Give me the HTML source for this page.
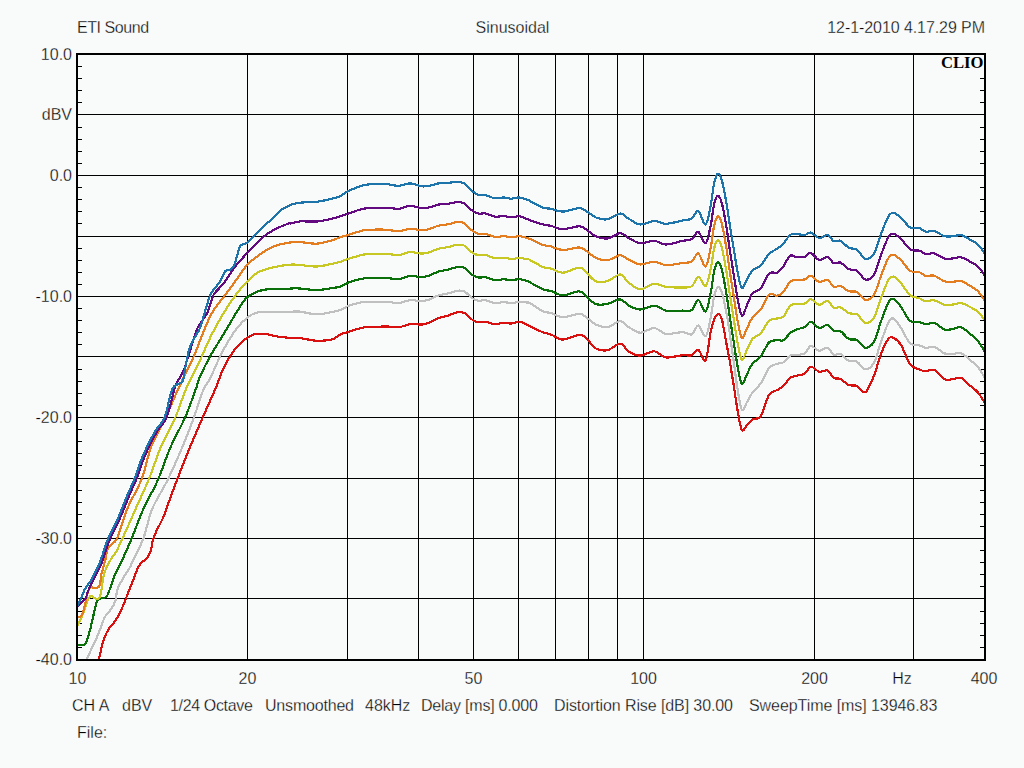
<!DOCTYPE html>
<html><head><meta charset="utf-8"><style>html,body{margin:0;padding:0;background:#f9fbfb;overflow:hidden}svg{display:block}</style></head>
<body><svg width="1024" height="768" viewBox="0 0 1024 768">
<rect x="0" y="0" width="1024" height="768" fill="#f9fbfb"/>
<path d="M247.5 54V659 M347.5 54V659 M418.5 54V659 M473.5 54V659 M518.5 54V659 M555.5 54V659 M588.5 54V659 M617.5 54V659 M643.5 54V659 M814.5 54V659 M913.5 54V659 M77 114.5H984 M77 175.5H984 M77 236.5H984 M77 296.5H984 M77 356.5H984 M77 417.5H984 M77 478.5H984 M77 538.5H984 M77 598.5H984 M78 66.5H82 M980 66.5H984 M78 78.5H82 M980 78.5H984 M78 90.5H82 M980 90.5H984 M78 102.5H82 M980 102.5H984 M78 127.5H82 M980 127.5H984 M78 139.5H82 M980 139.5H984 M78 151.5H82 M980 151.5H984 M78 163.5H82 M980 163.5H984 M78 187.5H82 M980 187.5H984 M78 199.5H82 M980 199.5H984 M78 211.5H82 M980 211.5H984 M78 223.5H82 M980 223.5H984 M78 248.5H82 M980 248.5H984 M78 260.5H82 M980 260.5H984 M78 272.5H82 M980 272.5H984 M78 284.5H82 M980 284.5H984 M78 308.5H82 M980 308.5H984 M78 320.5H82 M980 320.5H984 M78 332.5H82 M980 332.5H984 M78 344.5H82 M980 344.5H984 M78 369.5H82 M980 369.5H984 M78 381.5H82 M980 381.5H984 M78 393.5H82 M980 393.5H984 M78 405.5H82 M980 405.5H984 M78 429.5H82 M980 429.5H984 M78 441.5H82 M980 441.5H984 M78 453.5H82 M980 453.5H984 M78 465.5H82 M980 465.5H984 M78 490.5H82 M980 490.5H984 M78 502.5H82 M980 502.5H984 M78 514.5H82 M980 514.5H984 M78 526.5H82 M980 526.5H984 M78 550.5H82 M980 550.5H984 M78 562.5H82 M980 562.5H984 M78 574.5H82 M980 574.5H984 M78 586.5H82 M980 586.5H984 M78 611.5H82 M980 611.5H984 M78 623.5H82 M980 623.5H984 M78 635.5H82 M980 635.5H984 M78 647.5H82 M980 647.5H984" stroke="#000" stroke-width="1" fill="none" shape-rendering="crispEdges"/>
<g clip-path="url(#cp)"><clipPath id="cp"><rect x="78" y="55" width="906" height="604"/></clipPath><path d="M99.0 659.0 C99.7 656.0 101.8 645.8 103.4 640.8 C105.0 635.8 106.6 632.3 108.6 629.0 C110.5 625.7 113.1 624.0 115.1 621.2 C117.0 618.4 118.4 616.0 120.3 612.1 C122.2 608.2 124.3 602.5 126.2 597.8 C128.1 593.0 129.9 588.4 131.8 583.6 C133.7 578.8 135.9 572.5 137.5 568.9 C139.1 565.3 140.1 563.9 141.6 562.3 C143.1 560.6 145.0 560.9 146.5 559.0 C148.0 557.1 149.6 554.1 150.7 550.8 C151.8 547.5 152.1 542.6 153.1 539.3 C154.1 536.0 154.8 534.6 156.4 531.1 C158.1 527.6 161.3 521.7 163.0 518.0 C164.7 514.3 164.2 514.7 166.3 509.0 C168.4 503.3 171.7 494.0 175.6 483.7 C179.5 473.4 185.5 458.3 190.0 447.2 C194.5 436.1 198.6 427.1 202.8 417.3 C207.1 407.5 212.8 394.8 215.5 388.6 C218.2 382.4 217.4 383.4 218.8 380.0 C220.1 376.6 221.4 372.6 223.4 368.5 C225.4 364.4 227.9 359.5 230.5 355.6 C233.1 351.7 236.0 347.9 238.7 345.0 C241.4 342.1 244.2 339.8 246.9 338.0 C249.6 336.2 252.0 334.7 255.1 334.0 C258.2 333.3 262.1 333.6 265.6 334.0 C269.1 334.4 272.1 335.6 276.2 336.3 C280.3 337.0 287.6 337.7 290.0 338.0 C292.4 338.3 288.9 338.0 290.6 338.0 C292.3 338.0 295.6 337.6 300.0 338.1 C304.4 338.5 311.3 340.6 316.7 340.8 C322.1 341.0 328.4 340.3 332.3 339.3 C336.2 338.3 337.1 335.9 340.0 334.6 C342.9 333.3 345.5 332.7 349.4 331.5 C353.3 330.4 359.1 328.2 363.4 327.5 C367.7 326.7 371.3 327.1 375.2 326.9 C379.1 326.7 383.0 326.4 386.9 326.4 C390.8 326.5 394.7 327.7 398.6 327.3 C402.5 326.9 406.4 324.6 410.3 324.1 C414.2 323.6 418.9 324.8 422.0 324.5 C425.1 324.2 426.4 323.5 429.1 322.5 C431.9 321.4 435.4 319.2 438.5 318.0 C441.6 316.9 444.8 316.5 447.9 315.6 C451.0 314.7 454.5 312.8 457.2 312.4 C459.9 312.0 461.9 311.9 464.3 313.0 C466.7 314.1 469.0 317.5 471.3 319.1 C473.6 320.7 476.0 321.9 478.3 322.3 C480.6 322.8 482.7 321.5 485.4 321.8 C488.1 322.1 491.6 324.0 494.7 324.2 C497.8 324.3 501.4 322.9 504.1 322.8 C506.9 322.7 508.6 323.7 511.2 323.6 C513.8 323.4 516.7 321.6 519.4 321.8 C522.1 322.0 525.8 324.3 527.6 325.1 C529.4 325.8 527.5 325.2 530.0 326.4 C532.5 327.6 539.4 330.9 542.9 332.3 C546.4 333.6 547.8 333.4 551.1 334.6 C554.4 335.8 558.1 339.5 562.8 339.6 C567.5 339.6 575.3 335.1 579.2 334.9 C583.1 334.7 583.5 336.0 586.3 338.2 C589.0 340.5 592.2 346.4 595.7 348.4 C599.2 350.4 603.3 351.0 607.4 350.2 C611.5 349.4 616.8 343.4 620.3 343.6 C623.8 343.8 625.2 349.5 628.5 351.5 C631.8 353.6 635.9 355.7 640.2 355.6 C644.5 355.6 650.0 351.0 654.3 351.3 C658.6 351.6 661.3 356.8 666.0 357.4 C670.7 358.1 678.1 355.6 682.4 355.2 C686.7 354.9 689.1 356.2 691.8 355.3 C694.4 354.4 696.0 349.0 698.3 349.8 C700.6 350.6 703.5 363.2 705.6 360.2 C707.7 357.2 709.2 338.6 710.6 332.0 C712.0 325.4 712.8 323.3 713.8 320.5 C714.7 317.7 715.6 316.0 716.5 315.0 C717.4 314.0 718.1 313.6 719.0 314.4 C719.9 315.2 720.8 314.9 722.0 319.6 C723.2 324.3 725.0 335.9 726.2 342.5 C727.5 349.1 728.2 352.1 729.4 359.0 C730.6 365.9 732.1 375.3 733.5 384.0 C734.9 392.7 736.3 403.3 737.7 411.0 C739.1 418.7 740.3 427.7 741.9 430.0 C743.5 432.3 745.5 426.2 747.3 424.5 C749.1 422.8 750.2 421.1 752.5 419.6 C754.8 418.2 758.0 420.1 760.8 415.9 C763.6 411.7 766.4 398.9 769.2 394.6 C772.0 390.3 775.1 391.4 777.5 389.9 C779.9 388.4 781.7 387.4 783.8 385.4 C785.8 383.4 787.9 379.6 790.0 378.0 C792.1 376.3 793.8 376.4 796.2 375.7 C798.7 375.0 802.2 375.3 804.6 373.8 C807.0 372.2 808.4 367.0 810.8 366.7 C813.2 366.3 816.4 371.1 819.2 371.7 C822.0 372.3 825.1 369.5 827.5 370.5 C829.9 371.6 831.6 376.5 833.8 377.9 C835.9 379.3 837.9 377.8 840.4 379.0 C842.9 380.2 846.0 383.9 848.8 385.0 C851.5 386.2 854.3 384.8 857.1 386.0 C859.9 387.2 862.6 393.9 865.4 392.2 C868.2 390.5 871.1 382.4 873.8 376.1 C876.4 369.7 878.6 360.0 881.0 353.8 C883.4 347.7 886.2 341.7 888.3 339.0 C890.4 336.4 891.4 337.0 893.5 337.9 C895.6 338.8 898.0 340.2 900.8 344.6 C903.6 349.0 907.1 360.1 910.2 364.2 C913.3 368.4 917.0 368.4 919.6 369.6 C922.2 370.8 923.4 371.3 925.8 371.4 C928.2 371.4 931.1 368.6 934.2 369.9 C937.3 371.2 941.5 377.6 944.6 379.2 C947.7 380.7 950.1 379.4 952.9 379.2 C955.7 379.0 958.5 377.0 961.2 378.0 C964.0 379.0 966.8 382.8 969.6 385.2 C972.4 387.6 975.5 389.6 977.9 392.4 C980.3 395.2 983.2 400.3 984.2 401.9" stroke="#d81010" stroke-width="2.2" fill="none" stroke-linejoin="round" stroke-linecap="round" shape-rendering="crispEdges"/><path d="M87.0 659.0 C87.8 657.3 89.7 652.7 91.6 648.6 C93.5 644.5 96.0 639.5 98.2 634.3 C100.3 629.1 102.7 621.2 104.7 617.3 C106.7 613.4 108.2 613.4 109.9 610.8 C111.6 608.2 113.8 605.4 115.1 601.7 C116.4 598.0 116.0 593.3 117.7 588.7 C119.4 584.1 123.5 577.8 125.5 574.3 C127.5 570.8 128.4 570.1 129.7 567.7 C131.0 565.3 131.0 564.9 133.3 560.0 C135.6 555.1 140.2 546.9 143.4 538.4 C146.6 529.9 148.2 518.7 152.2 509.0 C156.2 499.3 162.6 490.3 167.6 480.0 C172.6 469.7 177.9 457.6 182.3 447.2 C186.7 436.8 190.4 427.1 194.0 417.3 C197.6 407.5 201.2 394.8 203.8 388.6 C206.3 382.4 206.7 385.3 209.4 380.0 C212.1 374.7 216.8 363.2 219.9 356.8 C223.0 350.4 225.2 346.5 228.1 341.6 C231.0 336.7 234.4 331.4 237.5 327.5 C240.6 323.6 243.4 320.6 246.9 318.1 C250.4 315.6 251.4 313.4 258.6 312.3 C265.8 311.2 283.1 311.8 290.0 311.7 C296.9 311.6 295.6 311.1 300.0 311.6 C304.4 312.0 311.3 314.3 316.7 314.4 C322.1 314.5 328.4 312.7 332.3 312.0 C336.2 311.3 337.1 311.1 340.0 310.0 C342.9 308.9 345.5 306.9 349.4 305.5 C353.3 304.2 359.1 302.6 363.4 302.0 C367.7 301.3 371.3 301.9 375.2 301.9 C379.1 301.9 383.0 301.6 386.9 301.8 C390.8 302.0 394.7 303.3 398.6 303.0 C402.5 302.7 406.4 300.5 410.3 300.2 C414.2 299.9 418.9 301.3 422.0 301.2 C425.1 301.0 426.4 300.4 429.1 299.5 C431.9 298.5 435.4 296.5 438.5 295.5 C441.6 294.5 444.8 294.3 447.9 293.5 C451.0 292.8 454.5 291.2 457.2 290.8 C459.9 290.4 461.9 290.3 464.3 291.4 C466.7 292.5 469.0 295.9 471.3 297.5 C473.6 299.1 476.0 300.3 478.3 300.7 C480.6 301.2 482.7 299.8 485.4 300.2 C488.1 300.6 491.6 302.7 494.7 303.0 C497.8 303.3 501.4 302.1 504.1 302.1 C506.9 302.1 508.6 303.2 511.2 303.2 C513.8 303.1 516.7 301.9 519.4 301.8 C522.1 301.7 525.8 302.3 527.6 302.6 C529.4 302.8 527.5 301.8 530.0 303.2 C532.5 304.6 539.4 309.6 542.9 311.3 C546.4 312.9 547.8 312.1 551.1 313.1 C554.4 314.1 558.1 317.1 562.8 317.3 C567.5 317.4 575.3 313.9 579.2 313.9 C583.1 313.8 583.5 315.5 586.3 317.2 C589.0 319.0 592.2 322.7 595.7 324.4 C599.2 326.0 603.3 327.8 607.4 327.3 C611.5 326.8 616.8 321.2 620.3 321.1 C623.8 321.0 625.2 325.0 628.5 326.9 C631.8 328.8 635.9 332.5 640.2 332.7 C644.5 332.9 650.0 327.8 654.3 328.0 C658.6 328.2 661.3 333.2 666.0 333.9 C670.7 334.6 678.1 332.1 682.4 332.2 C686.7 332.3 689.1 335.5 691.8 334.4 C694.4 333.3 696.0 325.2 698.3 325.5 C700.6 325.8 703.5 337.5 705.6 336.2 C707.7 335.0 709.2 324.7 710.6 318.3 C712.0 311.9 712.8 302.9 713.8 298.0 C714.7 293.1 715.6 290.8 716.5 289.0 C717.4 287.2 718.1 286.7 719.0 287.3 C719.9 287.9 720.8 288.7 722.0 292.7 C723.2 296.7 725.0 305.2 726.2 311.6 C727.5 317.9 728.2 322.8 729.4 330.9 C730.6 339.0 732.1 350.3 733.5 360.1 C734.9 369.9 736.3 381.5 737.7 389.8 C739.1 398.1 740.3 408.0 741.9 409.9 C743.5 411.9 745.5 404.4 747.3 401.5 C749.1 398.6 750.2 395.5 752.5 392.5 C754.8 389.5 758.0 387.4 760.8 383.3 C763.6 379.2 766.4 371.1 769.2 367.8 C772.0 364.6 775.1 364.7 777.5 363.7 C779.9 362.8 781.7 363.5 783.8 362.2 C785.8 360.9 787.9 356.9 790.0 355.7 C792.1 354.5 793.8 355.3 796.2 354.9 C798.7 354.5 802.2 355.0 804.6 353.5 C807.0 352.0 808.4 346.4 810.8 345.9 C813.2 345.5 816.4 350.5 819.2 350.8 C822.0 351.1 825.1 347.1 827.5 347.7 C829.9 348.3 831.6 353.7 833.8 354.7 C835.9 355.7 837.9 352.8 840.4 353.8 C842.9 354.8 846.0 359.6 848.8 360.9 C851.5 362.2 854.3 360.4 857.1 361.8 C859.9 363.3 862.6 369.2 865.4 369.4 C868.2 369.6 871.1 367.7 873.8 363.1 C876.4 358.6 878.6 348.7 881.0 342.0 C883.4 335.4 886.2 327.0 888.3 323.0 C890.4 319.1 891.4 317.7 893.5 318.5 C895.6 319.3 898.0 323.5 900.8 327.6 C903.6 331.8 907.1 340.5 910.2 343.4 C913.3 346.4 917.0 344.6 919.6 345.4 C922.2 346.1 923.4 347.7 925.8 348.0 C928.2 348.2 931.1 345.9 934.2 346.8 C937.3 347.7 941.5 352.3 944.6 353.4 C947.7 354.6 950.1 353.9 952.9 353.9 C955.7 353.9 958.5 352.3 961.2 353.3 C964.0 354.2 966.8 357.3 969.6 359.6 C972.4 361.9 975.5 364.1 977.9 367.0 C980.3 369.9 983.2 375.2 984.2 376.9" stroke="#c0c0c0" stroke-width="2.2" fill="none" stroke-linejoin="round" stroke-linecap="round" shape-rendering="crispEdges"/><path d="M77.0 645.0 C77.3 645.0 77.6 644.7 78.6 644.7 C79.6 644.8 81.9 645.8 83.2 645.3 C84.5 644.8 85.2 644.7 86.4 642.0 C87.6 639.3 89.0 634.0 90.3 629.0 C91.6 624.0 93.1 616.6 94.2 612.1 C95.3 607.6 95.7 604.0 96.8 601.7 C97.9 599.4 99.2 599.2 100.8 598.4 C102.3 597.6 104.7 598.1 106.0 597.1 C107.3 596.1 107.1 596.4 108.6 592.6 C110.1 588.8 112.8 579.7 115.1 574.3 C117.4 568.9 119.5 566.0 122.2 560.0 C125.0 554.0 128.2 546.9 131.7 538.4 C135.2 529.9 139.0 518.7 143.4 509.0 C147.8 499.3 153.4 490.3 157.9 480.0 C162.4 469.7 165.9 457.6 170.5 447.2 C175.1 436.8 180.9 427.1 185.2 417.3 C189.4 407.5 193.5 395.4 196.0 388.6 C198.5 381.8 197.6 382.2 200.0 376.7 C202.4 371.2 206.6 362.6 210.5 355.6 C214.4 348.6 218.7 342.3 223.4 334.5 C228.1 326.7 234.7 315.0 238.7 308.8 C242.7 302.5 243.7 300.2 247.3 297.2 C250.9 294.2 256.0 292.1 260.3 290.7 C264.6 289.3 268.4 289.1 273.3 288.8 C278.2 288.5 287.1 288.9 290.0 288.8 C292.9 288.8 288.9 288.6 290.6 288.5 C292.3 288.4 295.6 288.2 300.0 288.5 C304.4 288.7 311.3 290.2 316.7 290.1 C322.1 290.0 328.4 288.6 332.3 288.0 C336.2 287.4 337.1 287.6 340.0 286.6 C342.9 285.6 345.5 283.5 349.4 282.1 C353.3 280.8 359.1 279.1 363.4 278.5 C367.7 277.9 371.3 278.5 375.2 278.4 C379.1 278.3 383.0 278.0 386.9 278.1 C390.8 278.2 394.7 279.4 398.6 279.0 C402.5 278.7 406.4 276.3 410.3 276.0 C414.2 275.7 418.9 277.2 422.0 277.1 C425.1 277.0 426.4 276.4 429.1 275.5 C431.9 274.6 435.4 272.6 438.5 271.6 C441.6 270.7 444.8 270.5 447.9 269.7 C451.0 269.0 454.5 267.4 457.2 267.1 C459.9 266.8 461.9 266.7 464.3 267.9 C466.7 269.0 469.0 272.5 471.3 274.1 C473.6 275.8 476.0 277.0 478.3 277.5 C480.6 278.0 482.7 276.8 485.4 277.2 C488.1 277.6 491.6 279.7 494.7 280.1 C497.8 280.4 501.4 279.2 504.1 279.3 C506.9 279.3 508.6 280.4 511.2 280.4 C513.8 280.4 516.7 278.9 519.4 279.1 C522.1 279.3 525.8 280.8 527.6 281.3 C529.4 281.9 527.5 281.1 530.0 282.4 C532.5 283.7 539.4 287.8 542.9 289.3 C546.4 290.7 547.8 290.1 551.1 291.1 C554.4 292.1 558.1 295.2 562.8 295.3 C567.5 295.3 575.3 291.1 579.2 291.3 C583.1 291.5 583.5 294.3 586.3 296.4 C589.0 298.5 592.2 302.8 595.7 304.0 C599.2 305.3 603.3 304.7 607.4 304.0 C611.5 303.2 616.8 299.1 620.3 299.4 C623.8 299.6 625.2 303.8 628.5 305.4 C631.8 307.1 635.9 309.4 640.2 309.5 C644.5 309.5 650.0 305.5 654.3 305.6 C658.6 305.8 661.3 309.8 666.0 310.6 C670.7 311.4 678.1 310.7 682.4 310.6 C686.7 310.5 689.1 311.9 691.8 310.1 C694.4 308.4 696.0 299.8 698.3 300.0 C700.6 300.3 703.5 312.7 705.6 311.6 C707.7 310.5 709.2 299.9 710.6 293.4 C712.0 287.0 712.8 277.9 713.8 273.0 C714.7 268.1 715.6 265.6 716.5 263.9 C717.4 262.2 718.1 261.7 719.0 262.8 C719.9 263.9 720.8 265.6 722.0 270.5 C723.2 275.5 725.0 285.4 726.2 292.7 C727.5 300.0 728.2 306.5 729.4 314.4 C730.6 322.4 732.1 331.9 733.5 340.7 C734.9 349.4 736.3 359.8 737.7 366.9 C739.1 374.1 740.3 382.6 741.9 383.7 C743.5 384.8 745.5 376.8 747.3 373.5 C749.1 370.1 750.2 366.5 752.5 363.6 C754.8 360.7 758.0 359.9 760.8 356.3 C763.6 352.7 766.4 344.9 769.2 342.2 C772.0 339.6 775.1 340.7 777.5 340.3 C779.9 340.0 781.7 341.4 783.8 340.2 C785.8 339.0 787.9 334.9 790.0 333.1 C792.1 331.3 793.8 330.6 796.2 329.6 C798.7 328.6 802.2 328.3 804.6 327.0 C807.0 325.6 808.4 321.5 810.8 321.7 C813.2 321.9 816.4 327.4 819.2 327.9 C822.0 328.4 825.1 324.3 827.5 324.8 C829.9 325.3 831.6 329.9 833.8 331.0 C835.9 332.0 837.9 329.8 840.4 331.2 C842.9 332.5 846.0 337.5 848.8 339.0 C851.5 340.4 854.3 338.6 857.1 340.0 C859.9 341.5 862.6 347.3 865.4 347.7 C868.2 348.0 871.1 346.4 873.8 342.0 C876.4 337.6 878.6 327.9 881.0 321.4 C883.4 314.9 886.2 306.7 888.3 302.9 C890.4 299.1 891.4 298.1 893.5 298.8 C895.6 299.4 898.0 303.0 900.8 306.7 C903.6 310.4 907.1 318.4 910.2 321.0 C913.3 323.6 917.0 321.5 919.6 322.1 C922.2 322.6 923.4 324.2 925.8 324.4 C928.2 324.5 931.1 322.0 934.2 322.9 C937.3 323.7 941.5 328.7 944.6 329.7 C947.7 330.7 950.1 329.3 952.9 328.9 C955.7 328.4 958.5 326.4 961.2 327.2 C964.0 328.0 966.8 331.2 969.6 333.5 C972.4 335.8 975.5 338.0 977.9 340.9 C980.3 343.8 983.2 349.1 984.2 350.8" stroke="#0a700a" stroke-width="2.2" fill="none" stroke-linejoin="round" stroke-linecap="round" shape-rendering="crispEdges"/><path d="M77.0 626.0 C77.3 625.6 77.6 625.9 78.6 623.8 C79.6 621.7 81.7 617.3 83.2 613.4 C84.7 609.5 86.4 603.3 87.7 600.4 C89.0 597.5 89.9 596.2 91.0 595.8 C92.1 595.4 93.0 597.3 94.2 597.8 C95.4 598.3 97.1 599.6 98.2 599.0 C99.2 598.4 99.8 598.0 100.8 593.9 C101.7 589.8 102.4 579.9 104.0 574.3 C105.6 568.6 108.5 563.7 110.5 560.0 C112.5 556.3 114.0 555.6 116.0 552.0 C118.0 548.4 119.2 545.6 122.5 538.4 C125.8 531.2 131.2 519.0 135.6 509.0 C140.0 499.0 145.0 488.7 149.2 478.4 C153.4 468.1 156.4 457.4 160.8 447.2 C165.2 437.0 171.2 427.1 175.4 417.3 C179.6 407.5 182.1 398.1 186.2 388.6 C190.3 379.1 195.8 369.3 200.0 360.3 C204.2 351.3 207.8 342.3 211.7 334.5 C215.6 326.7 219.2 320.3 223.4 313.4 C227.6 306.5 232.9 298.6 236.9 293.3 C240.9 288.0 243.8 285.1 247.3 281.6 C250.8 278.1 253.4 274.9 257.7 272.5 C262.0 270.1 267.9 268.6 273.3 267.3 C278.7 266.0 285.6 265.1 290.0 264.7 C294.4 264.3 295.6 264.7 300.0 265.0 C304.4 265.3 311.3 266.7 316.7 266.5 C322.1 266.3 328.4 264.5 332.3 263.8 C336.2 263.0 337.1 262.8 340.0 261.9 C342.9 261.0 345.5 259.8 349.4 258.6 C353.3 257.4 359.1 255.4 363.4 254.6 C367.7 253.9 371.3 254.3 375.2 254.2 C379.1 254.1 383.0 253.8 386.9 254.0 C390.8 254.1 394.7 255.3 398.6 255.0 C402.5 254.7 406.4 252.3 410.3 252.1 C414.2 251.9 418.9 253.6 422.0 253.6 C425.1 253.6 426.4 253.0 429.1 252.2 C431.9 251.4 435.4 249.5 438.5 248.7 C441.6 247.8 444.8 247.8 447.9 247.1 C451.0 246.5 454.5 245.1 457.2 244.8 C459.9 244.5 461.9 244.4 464.3 245.6 C466.7 246.8 469.0 250.3 471.3 251.9 C473.6 253.5 476.0 254.8 478.3 255.3 C480.6 255.8 482.7 254.5 485.4 255.0 C488.1 255.5 491.6 257.7 494.7 258.2 C497.8 258.6 501.4 257.5 504.1 257.7 C506.9 257.8 508.6 259.0 511.2 259.0 C513.8 259.1 516.7 258.0 519.4 258.0 C522.1 258.0 525.8 258.9 527.6 259.2 C529.4 259.6 527.5 258.7 530.0 260.0 C532.5 261.3 539.4 265.5 542.9 267.0 C546.4 268.4 547.8 267.7 551.1 268.6 C554.4 269.6 558.1 272.9 562.8 272.7 C567.5 272.5 575.3 267.6 579.2 267.6 C583.1 267.5 583.5 270.2 586.3 272.5 C589.0 274.8 592.2 279.9 595.7 281.3 C599.2 282.7 603.3 282.3 607.4 281.1 C611.5 280.0 616.8 274.2 620.3 274.4 C623.8 274.7 625.2 280.1 628.5 282.5 C631.8 285.0 635.9 288.9 640.2 289.1 C644.5 289.3 650.0 284.1 654.3 283.7 C658.6 283.3 661.3 286.1 666.0 286.8 C670.7 287.4 678.1 287.6 682.4 287.5 C686.7 287.4 689.1 288.0 691.8 286.2 C694.4 284.4 696.0 276.8 698.3 276.7 C700.6 276.7 703.5 287.2 705.6 286.0 C707.7 284.8 709.2 275.3 710.6 269.3 C712.0 263.3 712.8 254.5 713.8 249.9 C714.7 245.2 715.6 243.0 716.5 241.5 C717.4 240.0 718.1 239.8 719.0 240.9 C719.9 242.0 720.8 243.5 722.0 248.3 C723.2 253.2 725.0 262.9 726.2 270.2 C727.5 277.4 728.2 283.7 729.4 291.6 C730.6 299.5 732.1 308.9 733.5 317.5 C734.9 326.1 736.3 336.4 737.7 343.4 C739.1 350.5 740.3 358.9 741.9 359.8 C743.5 360.7 745.5 352.4 747.3 348.9 C749.1 345.4 750.2 341.6 752.5 338.9 C754.8 336.3 758.0 336.1 760.8 333.0 C763.6 330.0 766.4 323.1 769.2 320.6 C772.0 318.2 775.1 319.2 777.5 318.4 C779.9 317.7 781.7 318.2 783.8 316.2 C785.8 314.1 787.9 308.0 790.0 306.0 C792.1 303.9 793.8 304.3 796.2 303.9 C798.7 303.5 802.2 304.4 804.6 303.6 C807.0 302.8 808.4 298.9 810.8 299.1 C813.2 299.3 816.4 304.7 819.2 305.0 C822.0 305.3 825.1 300.3 827.5 300.8 C829.9 301.3 831.6 306.9 833.8 307.9 C835.9 309.0 837.9 306.4 840.4 307.2 C842.9 308.1 846.0 311.9 848.8 313.1 C851.5 314.3 854.3 312.9 857.1 314.5 C859.9 316.1 862.6 322.2 865.4 322.8 C868.2 323.3 871.1 322.0 873.8 317.9 C876.4 313.8 878.6 304.3 881.0 298.1 C883.4 291.8 886.2 283.9 888.3 280.3 C890.4 276.7 891.4 276.2 893.5 276.6 C895.6 277.1 898.0 279.9 900.8 283.0 C903.6 286.1 907.1 292.7 910.2 295.2 C913.3 297.8 917.0 297.3 919.6 298.3 C922.2 299.3 923.4 301.1 925.8 301.4 C928.2 301.7 931.1 299.7 934.2 300.3 C937.3 300.9 941.5 304.3 944.6 305.0 C947.7 305.7 950.1 304.9 952.9 304.5 C955.7 304.2 958.5 302.7 961.2 303.1 C964.0 303.5 966.8 305.4 969.6 306.8 C972.4 308.3 975.5 309.5 977.9 311.6 C980.3 313.7 983.2 318.3 984.2 319.6" stroke="#c8c824" stroke-width="2.2" fill="none" stroke-linejoin="round" stroke-linecap="round" shape-rendering="crispEdges"/><path d="M77.0 617.5 C77.3 617.4 77.9 617.0 78.6 616.7 C79.3 616.5 80.2 617.6 81.2 616.0 C82.2 614.4 83.4 610.9 84.5 607.0 C85.6 603.1 86.7 595.9 87.7 592.6 C88.7 589.3 89.2 588.2 90.3 587.4 C91.4 586.6 92.7 588.2 94.2 588.0 C95.7 587.8 98.3 588.3 99.5 586.0 C100.7 583.7 100.4 578.6 101.4 574.3 C102.4 570.0 104.2 564.4 105.3 560.0 C106.4 555.6 106.2 551.6 108.2 548.0 C110.2 544.4 113.8 544.9 117.0 538.4 C120.2 531.9 123.0 519.0 127.2 509.0 C131.4 499.0 138.0 488.7 142.0 478.4 C146.0 468.1 147.1 457.4 151.0 447.2 C154.9 437.0 161.1 427.1 165.7 417.3 C170.3 407.5 173.7 398.8 178.4 388.6 C183.1 378.4 190.4 364.0 194.0 356.0 C197.6 348.0 197.1 347.5 200.0 340.4 C202.9 333.3 207.3 321.2 211.7 313.4 C216.1 305.5 222.3 299.0 226.5 293.3 C230.7 287.6 233.4 283.8 236.9 279.0 C240.4 274.2 243.4 268.8 247.3 264.7 C251.2 260.6 256.0 257.3 260.3 254.3 C264.6 251.3 268.4 248.5 273.3 246.5 C278.2 244.5 285.6 243.2 290.0 242.5 C294.4 241.8 295.6 241.9 300.0 242.1 C304.4 242.3 311.3 244.0 316.7 243.7 C322.1 243.4 328.4 241.4 332.3 240.3 C336.2 239.2 337.1 238.2 340.0 237.3 C342.9 236.4 345.5 235.8 349.4 234.6 C353.3 233.5 359.1 231.2 363.4 230.4 C367.7 229.5 371.3 229.7 375.2 229.6 C379.1 229.5 383.0 229.5 386.9 229.8 C390.8 230.0 394.7 231.4 398.6 231.2 C402.5 231.1 406.4 228.8 410.3 228.7 C414.2 228.6 418.9 230.3 422.0 230.4 C425.1 230.4 426.4 229.9 429.1 229.1 C431.9 228.3 435.4 226.5 438.5 225.7 C441.6 224.9 444.8 224.9 447.9 224.3 C451.0 223.7 454.5 222.3 457.2 222.1 C459.9 221.9 461.9 222.0 464.3 223.3 C466.7 224.6 469.0 228.2 471.3 230.0 C473.6 231.8 476.0 233.2 478.3 233.8 C480.6 234.5 482.7 233.4 485.4 233.9 C488.1 234.4 491.6 236.5 494.7 236.9 C497.8 237.3 501.4 236.1 504.1 236.2 C506.9 236.3 508.6 237.4 511.2 237.4 C513.8 237.4 516.7 236.1 519.4 236.2 C522.1 236.3 525.8 237.6 527.6 238.1 C529.4 238.5 527.5 237.9 530.0 239.0 C532.5 240.1 539.4 243.6 542.9 244.9 C546.4 246.1 547.8 245.7 551.1 246.5 C554.4 247.4 558.1 249.8 562.8 250.0 C567.5 250.1 575.3 247.3 579.2 247.4 C583.1 247.6 583.5 249.1 586.3 250.8 C589.0 252.6 592.2 256.1 595.7 257.7 C599.2 259.3 603.3 260.7 607.4 260.3 C611.5 259.8 616.8 255.3 620.3 255.2 C623.8 255.1 625.2 258.0 628.5 259.6 C631.8 261.1 635.9 264.0 640.2 264.4 C644.5 264.8 650.0 261.6 654.3 261.7 C658.6 261.8 661.3 264.9 666.0 265.1 C670.7 265.4 678.1 263.6 682.4 263.0 C686.7 262.4 689.1 263.1 691.8 261.5 C694.4 259.9 696.0 252.6 698.3 253.4 C700.6 254.3 703.5 267.4 705.6 266.5 C707.7 265.6 709.2 254.6 710.6 248.1 C712.0 241.6 712.8 232.5 713.8 227.5 C714.7 222.5 715.6 219.9 716.5 218.2 C717.4 216.4 718.1 215.9 719.0 217.0 C719.9 218.1 720.8 219.8 722.0 224.7 C723.2 229.7 725.0 239.6 726.2 246.9 C727.5 254.2 728.2 260.7 729.4 268.7 C730.6 276.7 732.1 286.2 733.5 294.9 C734.9 303.7 736.3 314.0 737.7 321.2 C739.1 328.3 740.3 336.9 741.9 337.9 C743.5 339.0 745.5 331.0 747.3 327.6 C749.1 324.2 750.2 320.6 752.5 317.5 C754.8 314.4 758.0 313.0 760.8 309.2 C763.6 305.4 766.4 296.8 769.2 294.6 C772.0 292.4 775.1 296.3 777.5 295.7 C779.9 295.2 781.7 293.7 783.8 291.4 C785.8 289.1 787.9 283.8 790.0 281.9 C792.1 280.0 793.8 280.3 796.2 279.9 C798.7 279.5 802.2 280.1 804.6 279.4 C807.0 278.7 808.4 275.3 810.8 275.7 C813.2 276.1 816.4 281.2 819.2 281.9 C822.0 282.6 825.1 279.0 827.5 279.8 C829.9 280.6 831.6 285.9 833.8 286.9 C835.9 288.0 837.9 285.2 840.4 285.9 C842.9 286.6 846.0 290.2 848.8 291.2 C851.5 292.2 854.3 290.6 857.1 292.0 C859.9 293.4 862.6 299.2 865.4 299.8 C868.2 300.3 871.1 299.3 873.8 295.3 C876.4 291.3 878.6 281.9 881.0 275.8 C883.4 269.6 886.2 261.8 888.3 258.3 C890.4 254.8 891.4 254.6 893.5 254.9 C895.6 255.2 898.0 257.4 900.8 260.1 C903.6 262.7 907.1 268.7 910.2 270.8 C913.3 272.8 917.0 271.4 919.6 272.3 C922.2 273.2 923.4 275.4 925.8 276.0 C928.2 276.5 931.1 274.8 934.2 275.7 C937.3 276.6 941.5 280.4 944.6 281.4 C947.7 282.4 950.1 281.8 952.9 281.7 C955.7 281.7 958.5 280.4 961.2 281.1 C964.0 281.7 966.8 284.0 969.6 285.6 C972.4 287.3 975.5 288.9 977.9 291.2 C980.3 293.6 983.2 298.4 984.2 299.8" stroke="#e47c20" stroke-width="2.2" fill="none" stroke-linejoin="round" stroke-linecap="round" shape-rendering="crispEdges"/><path d="M77.0 607.0 C77.3 606.7 77.7 605.9 78.6 605.0 C79.5 604.1 81.3 602.9 82.5 601.7 C83.7 600.5 84.7 600.0 85.8 597.8 C86.9 595.6 87.7 591.8 89.0 588.7 C90.3 585.7 92.0 582.8 93.6 579.5 C95.2 576.2 97.3 572.4 98.8 569.1 C100.3 565.9 100.8 565.1 102.8 560.0 C104.7 554.9 107.7 544.6 110.2 538.4 C112.7 532.2 115.7 527.6 118.0 522.7 C120.3 517.8 122.0 513.5 123.9 509.0 C125.8 504.4 127.1 500.4 129.2 495.4 C131.3 490.4 133.8 485.7 136.5 479.0 C139.2 472.3 141.8 462.9 145.2 455.0 C148.6 447.1 153.3 437.9 156.9 431.6 C160.5 425.3 163.8 424.5 166.7 417.3 C169.6 410.1 172.7 394.5 174.5 388.6 C176.3 382.7 175.8 385.1 177.4 381.8 C179.0 378.5 181.2 377.2 184.2 369.0 C187.2 360.8 193.0 340.3 195.6 332.8 C198.2 325.3 198.1 327.2 200.0 324.0 C201.9 320.8 205.1 317.1 207.0 313.4 C208.9 309.7 210.0 304.9 211.2 301.7 C212.4 298.5 212.7 296.2 214.0 294.0 C215.3 291.8 217.3 290.4 219.0 288.5 C220.7 286.6 221.1 286.6 223.9 282.9 C226.7 279.1 231.7 271.0 235.6 266.0 C239.5 261.0 242.8 257.8 247.3 253.0 C251.9 248.2 258.3 241.2 262.9 237.3 C267.4 233.4 270.1 231.9 274.6 229.5 C279.1 227.1 287.3 224.0 290.0 223.0 C292.7 222.0 288.9 223.7 290.6 223.4 C292.3 223.1 295.6 221.8 300.0 221.4 C304.4 221.1 311.3 221.9 316.7 221.5 C322.1 221.0 328.4 219.5 332.3 218.6 C336.2 217.8 337.1 217.2 340.0 216.3 C342.9 215.4 345.5 214.3 349.4 213.1 C353.3 211.8 359.1 209.6 363.4 208.7 C367.7 207.8 371.3 208.1 375.2 207.9 C379.1 207.7 383.0 207.5 386.9 207.7 C390.8 207.8 394.7 209.1 398.6 208.8 C402.5 208.5 406.4 205.9 410.3 205.9 C414.2 205.8 418.9 208.0 422.0 208.2 C425.1 208.5 426.4 208.0 429.1 207.4 C431.9 206.8 435.4 205.2 438.5 204.6 C441.6 204.0 444.8 204.2 447.9 203.8 C451.0 203.4 454.5 202.3 457.2 202.2 C459.9 202.1 461.9 202.0 464.3 203.3 C466.7 204.5 469.0 208.1 471.3 209.8 C473.6 211.6 476.0 212.9 478.3 213.5 C480.6 214.1 482.7 213.0 485.4 213.5 C488.1 214.0 491.6 216.2 494.7 216.6 C497.8 217.1 501.4 216.0 504.1 216.1 C506.9 216.2 508.6 217.3 511.2 217.4 C513.8 217.4 516.7 216.0 519.4 216.3 C522.1 216.6 525.8 218.5 527.6 219.2 C529.4 219.9 527.5 219.6 530.0 220.5 C532.5 221.4 539.4 223.5 542.9 224.4 C546.4 225.3 547.8 225.1 551.1 225.9 C554.4 226.7 558.1 229.1 562.8 229.1 C567.5 229.2 575.3 226.2 579.2 226.3 C583.1 226.3 583.5 227.9 586.3 229.5 C589.0 231.2 592.2 234.7 595.7 236.2 C599.2 237.7 603.3 239.0 607.4 238.5 C611.5 238.0 616.8 233.3 620.3 233.2 C623.8 233.1 625.2 236.2 628.5 237.9 C631.8 239.6 635.9 242.8 640.2 243.3 C644.5 243.8 650.0 240.6 654.3 240.9 C658.6 241.1 661.3 244.5 666.0 244.5 C670.7 244.5 678.1 241.8 682.4 240.9 C686.7 240.0 689.1 240.5 691.8 239.0 C694.4 237.5 696.0 231.2 698.3 231.9 C700.6 232.6 703.5 244.3 705.6 243.3 C707.7 242.3 709.2 232.0 710.6 225.8 C712.0 219.6 712.8 210.6 713.8 205.8 C714.7 201.0 715.6 198.7 716.5 197.0 C717.4 195.4 718.1 195.1 719.0 196.2 C719.9 197.3 720.8 198.8 722.0 203.7 C723.2 208.6 725.0 218.3 726.2 225.6 C727.5 232.8 728.2 239.2 729.4 247.1 C730.6 255.0 732.1 264.4 733.5 273.1 C734.9 281.8 736.3 292.0 737.7 299.1 C739.1 306.2 740.3 314.7 741.9 315.6 C743.5 316.5 745.5 308.1 747.3 304.4 C749.1 300.7 750.2 296.0 752.5 293.3 C754.8 290.6 758.0 291.4 760.8 288.1 C763.6 284.8 766.4 276.1 769.2 273.5 C772.0 270.9 775.1 273.8 777.5 272.5 C779.9 271.2 781.7 268.5 783.8 265.7 C785.8 262.9 787.9 257.3 790.0 255.8 C792.1 254.3 793.8 256.7 796.2 256.9 C798.7 257.2 802.2 257.7 804.6 257.0 C807.0 256.4 808.4 252.4 810.8 252.9 C813.2 253.4 816.4 259.3 819.2 260.0 C822.0 260.7 825.1 256.4 827.5 256.9 C829.9 257.4 831.6 262.3 833.8 263.2 C835.9 264.2 837.9 261.6 840.4 262.6 C842.9 263.6 846.0 267.8 848.8 269.1 C851.5 270.5 854.3 269.2 857.1 270.9 C859.9 272.7 862.6 278.9 865.4 279.6 C868.2 280.2 871.1 278.9 873.8 274.8 C876.4 270.7 878.6 261.2 881.0 255.0 C883.4 248.8 886.2 240.8 888.3 237.3 C890.4 233.7 891.4 233.5 893.5 233.7 C895.6 233.9 898.0 236.2 900.8 238.8 C903.6 241.4 907.1 247.4 910.2 249.4 C913.3 251.4 917.0 250.0 919.6 250.8 C922.2 251.6 923.4 253.7 925.8 254.1 C928.2 254.6 931.1 252.6 934.2 253.4 C937.3 254.1 941.5 257.7 944.6 258.5 C947.7 259.4 950.1 258.6 952.9 258.4 C955.7 258.2 958.5 256.8 961.2 257.3 C964.0 257.8 966.8 259.9 969.6 261.4 C972.4 263.0 975.5 264.3 977.9 266.6 C980.3 268.8 983.2 273.4 984.2 274.8" stroke="#640a80" stroke-width="2.2" fill="none" stroke-linejoin="round" stroke-linecap="round" shape-rendering="crispEdges"/><path d="M77.0 606.0 C77.2 605.8 77.3 606.4 78.0 605.0 C78.7 603.6 80.0 600.5 81.2 597.8 C82.4 595.1 83.4 591.8 85.1 588.7 C86.8 585.7 89.6 582.8 91.6 579.5 C93.5 576.2 95.3 572.4 96.8 569.1 C98.3 565.9 98.8 565.1 100.8 560.0 C102.7 554.9 105.7 544.6 108.2 538.4 C110.7 532.2 113.7 527.6 116.0 522.7 C118.3 517.8 120.0 513.5 121.9 509.0 C123.8 504.4 125.1 500.4 127.2 495.4 C129.3 490.4 131.8 485.7 134.5 479.0 C137.2 472.3 139.8 462.9 143.2 455.0 C146.6 447.1 151.3 437.9 154.9 431.6 C158.5 425.3 161.8 424.5 164.7 417.3 C167.6 410.1 169.6 394.5 172.5 388.6 C175.4 382.7 180.2 384.9 182.3 381.8 C184.4 378.7 183.8 375.4 184.9 370.0 C186.0 364.6 187.7 354.6 189.0 349.7 C190.3 344.8 191.2 344.2 193.0 340.6 C194.8 337.0 197.9 333.1 200.0 328.0 C202.1 322.9 203.8 315.5 205.5 310.0 C207.2 304.5 208.6 298.9 210.3 295.0 C212.1 291.1 214.4 289.0 216.0 286.8 C217.6 284.6 218.5 284.2 220.0 281.6 C221.5 279.0 223.5 273.1 225.2 271.2 C226.9 269.2 228.9 271.0 230.4 269.9 C231.9 268.8 232.8 268.4 234.3 264.7 C235.8 261.0 238.2 251.2 239.5 247.8 C240.8 244.4 240.8 245.4 242.1 244.5 C243.4 243.6 245.4 244.0 247.3 242.6 C249.2 241.2 251.2 238.6 253.8 236.0 C256.4 233.4 259.6 230.0 262.9 227.0 C266.1 224.0 270.3 220.6 273.3 217.8 C276.3 215.0 277.4 212.4 281.1 210.0 C284.9 207.6 289.9 204.7 295.8 203.3 C301.7 201.9 310.6 202.6 316.7 201.8 C322.8 201.0 328.4 199.5 332.3 198.6 C336.2 197.7 337.1 197.7 340.0 196.3 C342.9 195.0 345.5 192.3 349.4 190.5 C353.3 188.7 359.1 186.4 363.4 185.3 C367.7 184.2 371.3 184.1 375.2 183.9 C379.1 183.7 383.0 183.9 386.9 184.2 C390.8 184.5 394.7 185.9 398.6 185.8 C402.5 185.7 406.4 183.3 410.3 183.4 C414.2 183.5 418.9 185.9 422.0 186.3 C425.1 186.7 426.4 186.3 429.1 185.8 C431.9 185.3 435.4 183.9 438.5 183.4 C441.6 182.9 444.8 183.3 447.9 183.0 C451.0 182.7 454.5 181.7 457.2 181.8 C459.9 181.9 461.9 182.0 464.3 183.4 C466.7 184.8 469.0 188.6 471.3 190.5 C473.6 192.4 476.0 193.9 478.3 194.7 C480.6 195.5 482.7 194.6 485.4 195.2 C488.1 195.8 491.6 197.8 494.7 198.2 C497.8 198.6 501.4 197.4 504.1 197.5 C506.9 197.6 508.6 198.7 511.2 198.7 C513.8 198.7 516.7 197.3 519.4 197.5 C522.1 197.7 525.8 199.3 527.6 199.9 C529.4 200.5 527.5 199.7 530.0 201.0 C532.5 202.3 539.4 206.3 542.9 207.6 C546.4 208.9 547.8 208.1 551.1 208.8 C554.4 209.5 558.1 211.7 562.8 211.6 C567.5 211.5 575.3 208.2 579.2 208.1 C583.1 208.0 583.5 209.5 586.3 211.1 C589.0 212.7 592.2 216.0 595.7 217.4 C599.2 218.8 603.3 220.0 607.4 219.3 C611.5 218.7 616.8 213.6 620.3 213.5 C623.8 213.4 625.2 216.8 628.5 218.6 C631.8 220.4 635.9 224.1 640.2 224.5 C644.5 224.9 650.0 221.1 654.3 221.0 C658.6 220.9 661.3 223.9 666.0 223.8 C670.7 223.7 678.1 221.4 682.4 220.5 C686.7 219.6 689.1 220.2 691.8 218.6 C694.4 217.0 696.0 210.0 698.3 211.0 C700.6 212.0 703.5 225.5 705.6 224.6 C707.7 223.7 709.2 212.4 710.6 205.8 C712.0 199.2 712.8 190.1 713.8 185.0 C714.7 179.9 715.6 177.3 716.5 175.5 C717.4 173.7 718.1 173.1 719.0 174.0 C719.9 174.9 720.8 176.2 722.0 180.8 C723.2 185.4 725.0 194.8 726.2 201.7 C727.5 208.6 728.2 214.9 729.4 222.5 C730.6 230.1 732.1 239.2 733.5 247.5 C734.9 255.8 736.3 265.8 737.7 272.5 C739.1 279.2 740.3 287.0 741.9 288.0 C743.5 289.0 745.5 281.7 747.3 278.8 C749.1 275.8 750.2 272.7 752.5 270.4 C754.8 268.1 758.0 268.0 760.8 265.2 C763.6 262.4 766.4 256.5 769.2 253.8 C772.0 251.0 775.1 250.2 777.5 248.5 C779.9 246.8 781.7 245.6 783.8 243.3 C785.8 241.1 787.9 236.6 790.0 235.0 C792.1 233.4 793.8 234.0 796.2 234.0 C798.7 234.0 802.2 235.2 804.6 235.0 C807.0 234.8 808.4 232.0 810.8 232.5 C813.2 233.0 816.4 237.6 819.2 238.0 C822.0 238.4 825.1 234.5 827.5 235.0 C829.9 235.5 831.6 240.3 833.8 241.2 C835.9 242.2 837.9 239.7 840.4 240.8 C842.9 241.9 846.0 246.2 848.8 247.7 C851.5 249.2 854.3 248.0 857.1 249.8 C859.9 251.6 862.6 258.1 865.4 258.8 C868.2 259.4 871.1 258.1 873.8 254.0 C876.4 249.9 878.6 240.4 881.0 234.2 C883.4 227.9 886.2 220.1 888.3 216.5 C890.4 212.9 891.4 212.7 893.5 212.9 C895.6 213.1 898.0 215.1 900.8 217.5 C903.6 219.9 907.1 225.7 910.2 227.5 C913.3 229.3 917.0 227.6 919.6 228.3 C922.2 229.0 923.4 231.2 925.8 231.7 C928.2 232.1 931.1 230.2 934.2 231.0 C937.3 231.8 941.5 235.4 944.6 236.2 C947.7 237.1 950.1 236.4 952.9 236.2 C955.7 236.1 958.5 234.7 961.2 235.2 C964.0 235.7 966.8 237.8 969.6 239.4 C972.4 241.0 975.5 242.3 977.9 244.6 C980.3 246.8 983.2 251.5 984.2 252.9" stroke="#1c74aa" stroke-width="2.2" fill="none" stroke-linejoin="round" stroke-linecap="round" shape-rendering="crispEdges"/></g>
<path d="M76 53h910v2h-910z M76 659h910v2h-910z M76 53h2v608h-2z M984 53h2v608h-2z" fill="#000" shape-rendering="crispEdges"/>
<g font-family="Liberation Sans, sans-serif" font-size="16" fill="#000" stroke="#f9fbfb" stroke-width="0.3"><text x="77" y="33" text-anchor="start" textLength="72.1">ETI Sound</text><text x="512.5" y="33" text-anchor="middle" >Sinusoidal</text><text x="985" y="33" text-anchor="end" textLength="157.7">12-1-2010 4.17.29 PM</text><text x="72" y="60" text-anchor="end" >10.0</text><text x="72" y="120" text-anchor="end" >dBV</text><text x="72" y="181" text-anchor="end" >0.0</text><text x="72" y="302" text-anchor="end" >-10.0</text><text x="72" y="423" text-anchor="end" >-20.0</text><text x="72" y="544" text-anchor="end" >-30.0</text><text x="72" y="665" text-anchor="end" >-40.0</text><text x="77.5" y="684" text-anchor="middle" >10</text><text x="247.5" y="684" text-anchor="middle" >20</text><text x="473.5" y="684" text-anchor="middle" >50</text><text x="643.5" y="684" text-anchor="middle" >100</text><text x="814.5" y="684" text-anchor="middle" >200</text><text x="902" y="684" text-anchor="middle" >Hz</text><text x="984" y="684" text-anchor="middle" >400</text><text x="72" y="711" text-anchor="start" >CH A</text><text x="122" y="711" text-anchor="start" >dBV</text><text x="170" y="711" text-anchor="start" textLength="82.8">1/24 Octave</text><text x="265" y="711" text-anchor="start" textLength="89">Unsmoothed</text><text x="365" y="711" text-anchor="start" >48kHz</text><text x="421" y="711" text-anchor="start" textLength="116.8">Delay [ms] 0.000</text><text x="554" y="711" text-anchor="start" textLength="179">Distortion Rise [dB] 30.00</text><text x="749" y="711" text-anchor="start" textLength="188.3">SweepTime [ms] 13946.83</text><text x="77" y="738" text-anchor="start" >File:</text></g>
<rect x="938" y="55" width="46" height="14" fill="#f9fbfb"/>
<text x="983.5" y="68" text-anchor="end" font-family="Liberation Serif, serif" font-weight="bold" font-size="16.5" textLength="42.5" lengthAdjust="spacingAndGlyphs" fill="#000">CLIO</text>
</svg></body></html>
